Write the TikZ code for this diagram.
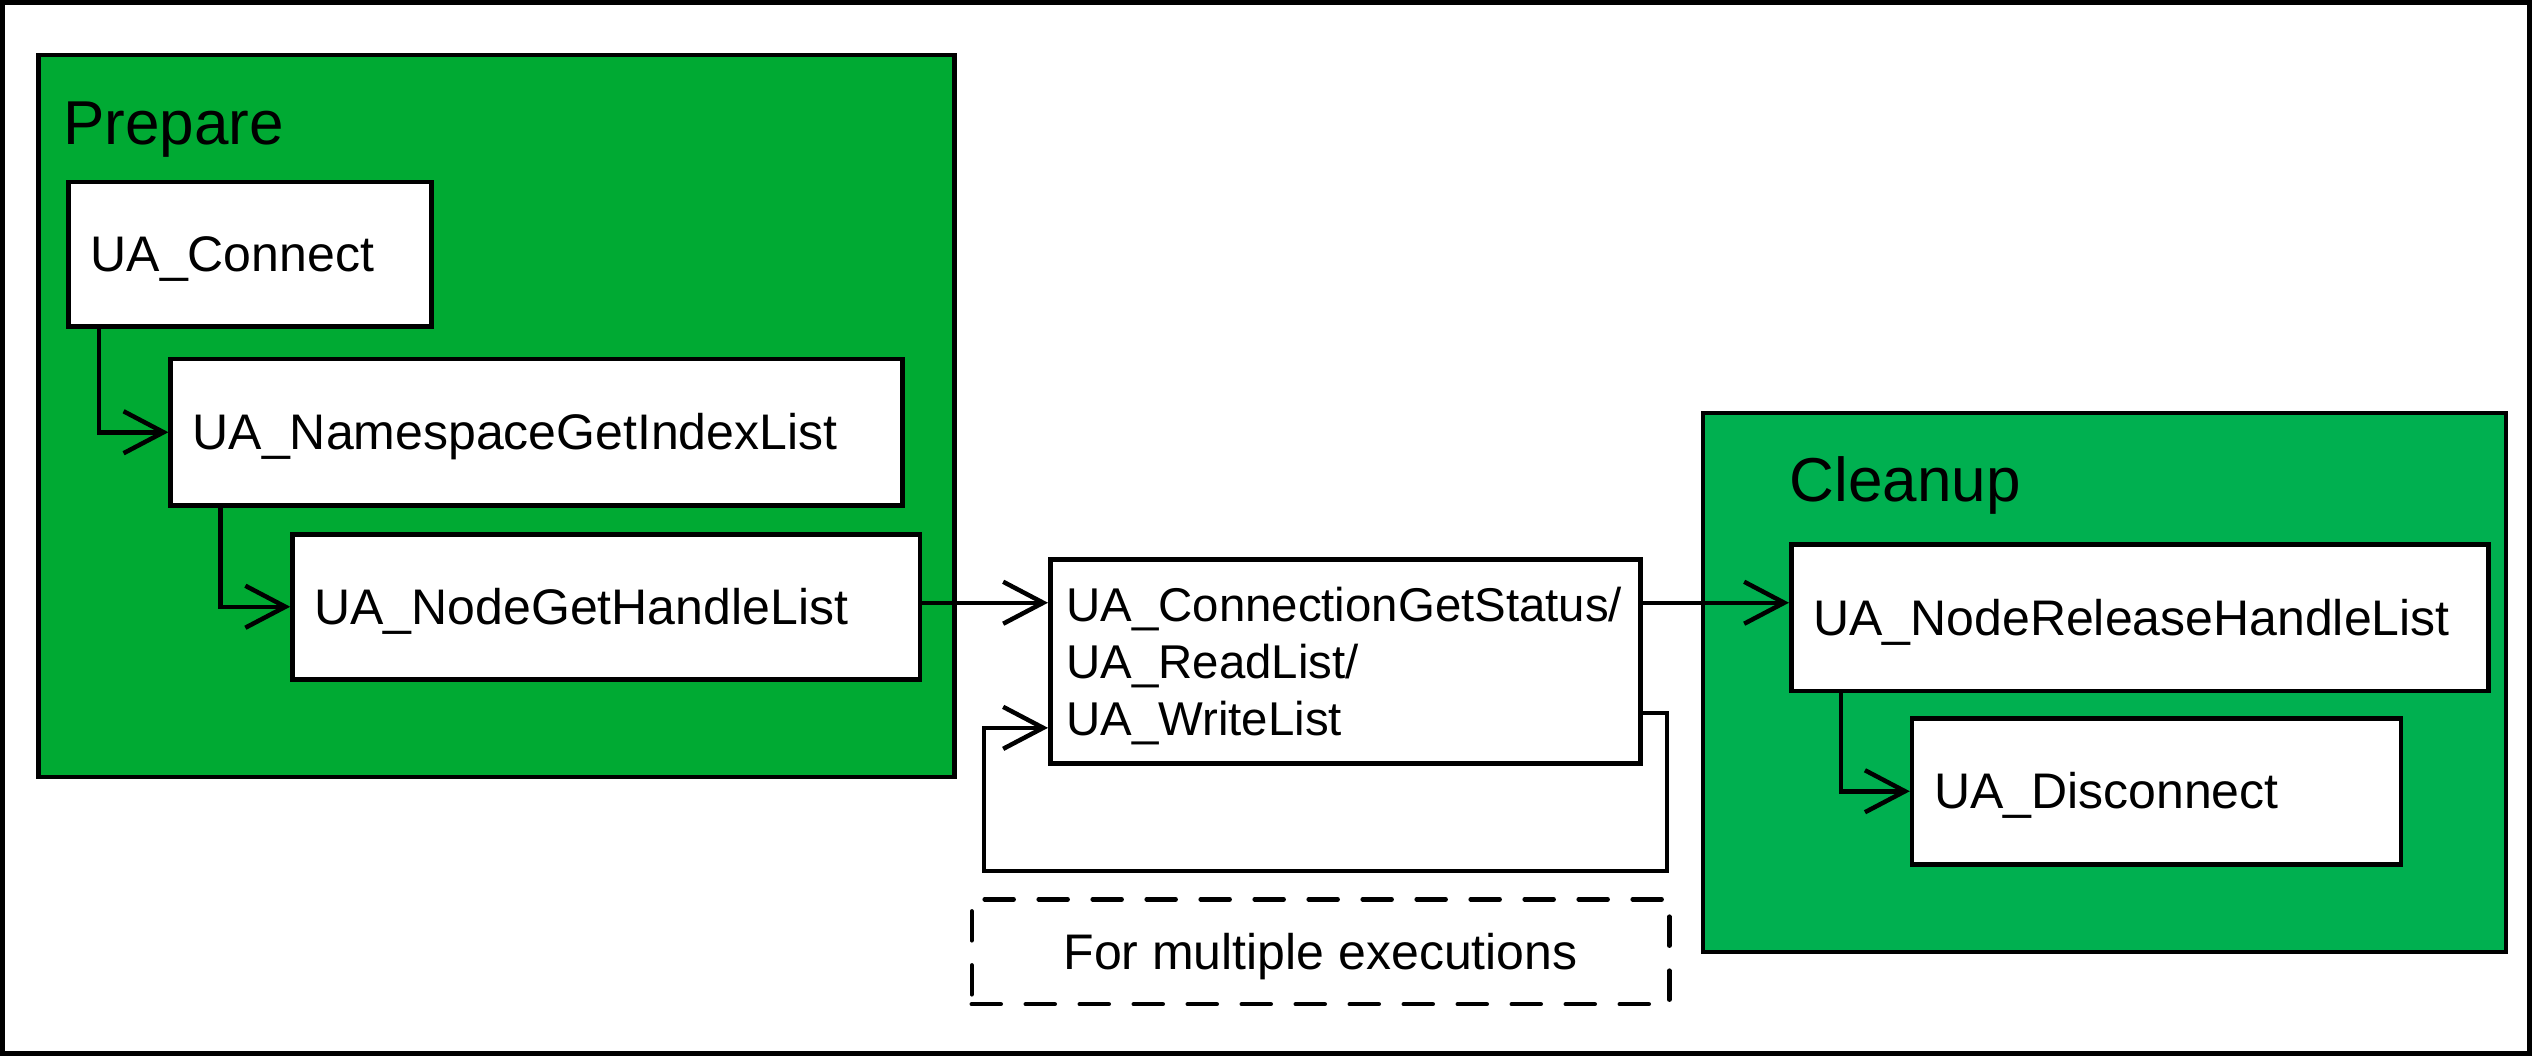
\documentclass[tikz,border=0pt]{standalone}
\usepackage{fontspec}
\setmainfont{Liberation Sans}
\usetikzlibrary{arrows.meta}
\definecolor{prepgreen}{RGB}{0,170,51}
\definecolor{cleangreen}{RGB}{0,176,80}
\begin{document}
\begin{tikzpicture}[x=1pt,y=-1pt,line width=4.5pt,
  group/.style={draw,line width=4.5pt,anchor=north west,inner sep=0pt},
  title/.style={anchor=base west,inner sep=0pt,font=\fontsize{62}{74}\selectfont},
  box/.style={draw,fill=white,line width=4.5pt,anchor=north west,inner ysep=0pt,inner xsep=22pt,
    align=left,font=\fontsize{50}{60}\selectfont},
  single/.style={text height=35pt,text depth=0pt},
  note/.style={draw,dashed,dash pattern=on 29pt off 25pt,line cap=round,line width=4.5pt,anchor=north west,
    inner sep=0pt,font=\fontsize{50}{60}\selectfont,text height=35pt,text depth=0pt},
  arr/.style={-{Straight Barb[length=40pt,width=42pt]},line width=4.5pt}]
\useasboundingbox (0,0) rectangle (2532,1056);
\draw[line width=5pt] (2.5,2.5) rectangle (2529.5,1053.5);
% groups
\node[group,fill=prepgreen,minimum width=915.8pt,minimum height=721.9pt] (prep) at (36.4,52.6) {};
\node[group,fill=cleangreen,minimum width=803.2pt,minimum height=538.9pt] (clean) at (1700.6,410.6) {};
\node[title] (preptitle) at (61,144.4) {Prepare};
\node[title] (cleantitle) at (1787.5,501.7) {Cleanup};
% boxes
\node[box,single,minimum width=362.9pt,minimum height=144.9pt,text width=318.9pt] (conn) at (66.3,179.6) {UA\_Connect};
\node[box,single,minimum width=731.6pt,minimum height=146pt,text width=687.6pt] (ns) at (168.4,357) {UA\_NamespaceGetIndexList};
\node[box,single,minimum width=627.5pt,minimum height=145pt,text width=583.5pt] (ng) at (290.2,532) {UA\_NodeGetHandleList};
\node[box,inner xsep=16pt,text height=34pt,text depth=113.5pt,minimum width=590.2pt,minimum height=203.6pt,text width=558.2pt,
  font=\fontsize{47.4}{56.8}\selectfont] (mid) at (1048,557.4) {UA\_ConnectionGetStatus/\\UA\_ReadList/\\UA\_WriteList};
\node[box,single,minimum width=697pt,minimum height=146.5pt,text width=653pt] (nr) at (1789,542) {UA\_NodeReleaseHandleList};
\node[box,single,minimum width=488.8pt,minimum height=146pt,text width=444.8pt] (dis) at (1909.8,716) {UA\_Disconnect};
\node[note,minimum width=697.5pt,minimum height=104.9pt] (noteb) at (969.5,897) {For multiple executions};
% connectors
\draw[arr] ([xshift=32.6pt]conn.south west) |- (ns.west);
\draw[arr] ([xshift=52.3pt]ns.south west) |- (ng.west);
\draw[arr] ([yshift=4pt]ng.east) -- ([yshift=4pt]ng.east -| mid.west);
\draw[arr] ([yshift=4pt]ng.east -| mid.east) -- ([yshift=4pt]ng.east -| nr.west);
\draw[arr] ([xshift=52pt]nr.south west) |- (dis.west);
\coordinate (lp1) at (1667,870.9);
\coordinate (lp2) at (983.8,870.9);
\draw[arr] ([yshift=-51.4pt]mid.east) -| (lp1) -- (lp2) |- ([yshift=-66.4pt]mid.west);
\end{tikzpicture}
\end{document}
